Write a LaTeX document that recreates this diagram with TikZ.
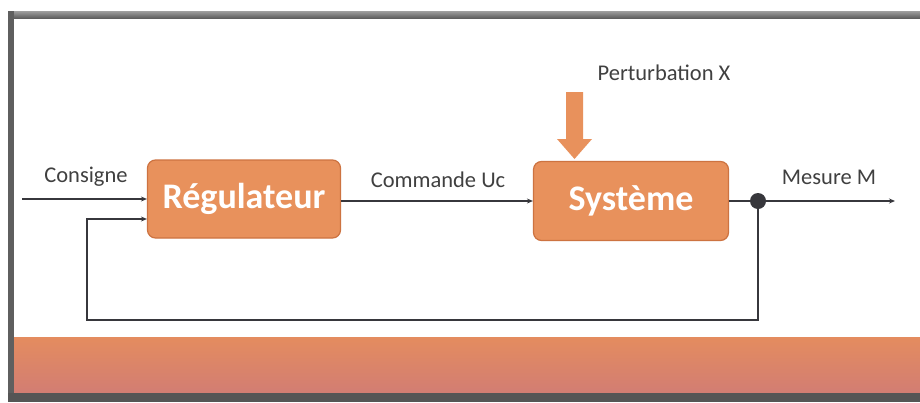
\documentclass[tikz,border=0pt]{standalone}
\usepackage{fontspec}
\setmainfont{Carlito}
\usetikzlibrary{arrows.meta,shapes.arrows}
\definecolor{boxfill}{RGB}{232,145,92}
\definecolor{boxedge}{RGB}{205,115,65}
\definecolor{linec}{RGB}{55,55,60}
\definecolor{framec}{RGB}{95,95,95}
\definecolor{bandtop}{RGB}{228,140,95}
\definecolor{bandbot}{RGB}{210,125,115}
\tikzset{
  blockbox/.style={draw=boxedge, line width=1.2pt, fill=boxfill, rounded corners=8pt,
    text=white, font=\bfseries\fontsize{36}{40}\selectfont, inner sep=0pt},
  lbl/.style={text=black!75, font=\fontsize{22.5}{25}\selectfont, inner sep=0pt},
  conn/.style={draw=linec, line width=1.6pt, -{Stealth[length=6pt,width=5pt]}},
  plain/.style={draw=linec, line width=1.6pt}
}
\begin{document}
\begin{tikzpicture}[x=1pt,y=-1pt]
\useasboundingbox (0,0) rectangle (920,402);
\fill[white] (0,0) rectangle (920,402);
% frame
\fill[top color=framec!60, bottom color=framec] (8,11) rectangle (920,18);
\fill[framec] (8,11) rectangle (14,402);
\fill[top color=bandtop, bottom color=bandbot] (14,337) rectangle (920,393);
\fill[framec!90!black] (8,393) rectangle (920,402);
% blocks
\node[blockbox, minimum width=193pt, minimum height=78pt] (reg) at (244,199) {Régulateur};
\node[blockbox, minimum width=195pt, minimum height=79pt] (sys) at (631,201) {Système};
% junction
\fill[linec] (758,201) circle (8pt);
\coordinate (junc) at (758,201);
\coordinate (in) at (22,199);
\coordinate (out) at (895,201);
\coordinate (fbl) at (87,320);
\coordinate (fbr) at (758,320);
% labels
\node[lbl] (cons) at (86,177) {Consigne};
\node[lbl] (cmd) at (438,180) {Commande Uc};
\node[lbl] (mes) at (829,177) {Mesure M};
\node[lbl] (pert) at (664,73) {Perturbation X};
% connectors
\draw[conn] (in) -- (reg.west |- in);
\draw[conn] (reg.east |- 0,201) -- (sys.west |- 0,201);
\draw[conn] (junc) -- (out);
\draw[plain] (sys.east |- junc) -- (junc);
\draw[conn] (junc) -- (fbr) -- (fbl) -- (87,219) -- (reg.west |- 0,219);
% perturbation arrow
\fill[boxfill] (566,92) -- (583,92) -- (583,139) -- (592,139) -- (574.5,159) -- (557,139) -- (566,139) -- cycle;
\end{tikzpicture}
\end{document}
